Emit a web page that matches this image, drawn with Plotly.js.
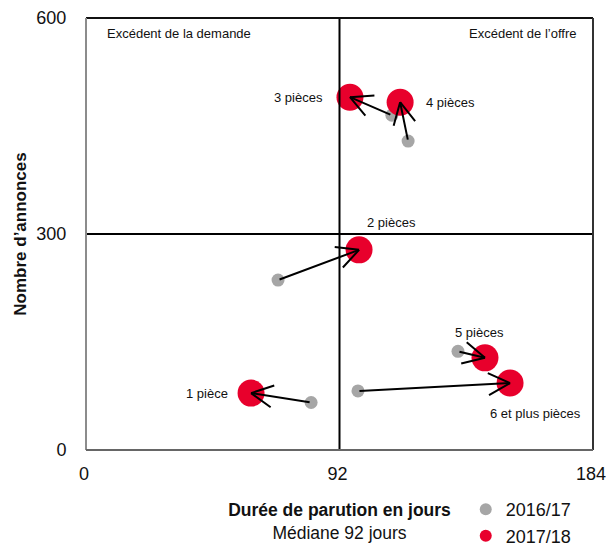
<!DOCTYPE html>
<html>
<head>
<meta charset="utf-8">
<script src="https://cdn.plot.ly/plotly-3.0.1.min.js"></script>
<style>html,body{margin:0;padding:0;background:#fff;}#chart{width:606px;height:546px;}</style>
</head>
<body>
<div id="chart"></div>
<script>
// ---- data ----
const categories = ['1 pièce', '2 pièces', '3 pièces', '4 pièces', '5 pièces', '6 et plus pièces'];
const duree1617 = [81.7, 69.7, 111, 116.9, 135, 98.7];
const annonces1617 = [66, 236, 465, 429, 137, 82];
const duree1718 = [59.9, 99.1, 95.8, 114, 144.8, 153.9];
const annonces1718 = [79, 278, 490, 483, 128, 93];
const seriesNames = ['2016/17', '2017/18'];
const xTicks = [0, 92, 184];
const yTicks = [0, 300, 600];
const medianDays = 92;
const midAnnonces = 300;

// ---- styling ----
const FONT = '"Liberation Sans Narrow", "Arial Narrow", "Liberation Sans", Arial, sans-serif';
const GREY = '#a6a6a6';
const RED = '#e8002c';
const ARM_LEN = 26;            // arrowhead arm offset, px (empty annotation box eats a few px)
const ARM_ANGLE = 27 * Math.PI / 180;
// label placement relative to the 2017/18 point (pixels)
const labelStyle = [
  {xanchor: 'right', xshift: -21, yshift: 0},
  {xanchor: 'left', xshift: 6, yshift: 27},
  {xanchor: 'right', xshift: -25, yshift: 0},
  {xanchor: 'left', xshift: 24, yshift: 0},
  {xanchor: 'center', xshift: -5, yshift: 25},
  {xanchor: 'left', xshift: -22, yshift: -30}
];

const traces = [
  {x: duree1617, y: annonces1617, text: categories, name: seriesNames[0], type: 'scatter', mode: 'markers',
   marker: {color: GREY, size: 13}, hoverinfo: 'text+x+y'},
  {x: duree1718, y: annonces1718, text: categories, name: seriesNames[1], type: 'scatter', mode: 'markers',
   marker: {color: RED, size: 27}, hoverinfo: 'text+x+y'}
];

const annotations = [];
categories.forEach((c, i) => {
  annotations.push({
    x: duree1718[i], y: annonces1718[i], ax: duree1617[i], ay: annonces1617[i],
    xref: 'x', yref: 'y', axref: 'x', ayref: 'y', text: '', showarrow: true,
    arrowhead: 0, arrowwidth: 2, arrowcolor: '#000', standoff: 0, startstandoff: 0
  });
  const s = labelStyle[i];
  annotations.push({
    x: duree1718[i], y: annonces1718[i], xref: 'x', yref: 'y', text: c, showarrow: false,
    xanchor: s.xanchor, yanchor: 'middle', xshift: s.xshift, yshift: s.yshift,
    font: {family: FONT, size: 13, color: '#111'}
  });
});
annotations.push({xref: 'paper', yref: 'paper', x: 0.037, y: 0.965, xanchor: 'left', yanchor: 'middle',
  text: 'Excédent de la demande', showarrow: false, font: {family: FONT, size: 13, color: '#111'}});
annotations.push({xref: 'paper', yref: 'paper', x: 0.97, y: 0.965, xanchor: 'right', yanchor: 'middle',
  text: 'Excédent de l’offre', showarrow: false, font: {family: FONT, size: 13, color: '#111'}});

const shapes = [
  {type: 'line', xref: 'x', yref: 'paper', x0: medianDays, x1: medianDays, y0: 0, y1: 1, line: {color: '#000', width: 2}},
  {type: 'line', xref: 'paper', yref: 'y', x0: 0, x1: 1, y0: midAnnonces, y1: midAnnonces, line: {color: '#000', width: 2}},
  {type: 'line', xref: 'paper', yref: 'paper', x0: 0, x1: 1, y0: 1, y1: 1, line: {color: '#111', width: 2}},
  {type: 'line', xref: 'paper', yref: 'paper', x0: 1, x1: 1, y0: 0, y1: 1, line: {color: '#333', width: 2}},
  {type: 'line', xref: 'paper', yref: 'paper', x0: 0, x1: 0, y0: 0, y1: 1, line: {color: '#8c8c8c', width: 2}},
  {type: 'line', xref: 'paper', yref: 'paper', x0: 0, x1: 1, y0: 0, y1: 0, line: {color: '#666', width: 2}}
];

const layout = {
  width: 606, height: 546,
  margin: {l: 86, r: 13, t: 18, b: 96, autoexpand: false},
  paper_bgcolor: '#fff', plot_bgcolor: '#fff',
  font: {family: FONT, color: '#111'},
  showlegend: true,
  legend: {x: 0.749, y: -0.095, xanchor: 'left', yanchor: 'top', orientation: 'v',
    font: {family: FONT, size: 18, color: '#111'}, itemsizing: 'constant', itemwidth: 30,
    tracegroupgap: 0, bgcolor: 'rgba(0,0,0,0)'},
  xaxis: {range: [0, 184], tickvals: xTicks, ticktext: xTicks.map(String), showgrid: false, zeroline: false,
    showline: false, ticks: 'outside', ticklen: 7, tickcolor: 'rgba(0,0,0,0)', automargin: false,
    ticklabeloverflow: 'allow', ticklabelshift: -2,
    tickfont: {family: FONT, size: 18, color: '#111'},
    title: {text: '<b>Durée de parution en jours</b><br>Médiane 92 jours', font: {family: FONT, size: 17.5, color: '#111'}, standoff: 21}},
  yaxis: {range: [0, 600], tickvals: yTicks, ticktext: yTicks.map(String), showgrid: false, zeroline: false,
    showline: false, ticks: 'outside', ticklen: 15, tickcolor: 'rgba(0,0,0,0)', automargin: false,
    tickfont: {family: FONT, size: 18, color: '#111'},
    title: {text: '<b>Nombre d’annonces</b>', font: {family: FONT, size: 17, color: '#111'}, standoff: 5}},
  shapes: shapes,
  annotations: annotations
};

Plotly.newPlot('chart', traces, layout, {displayModeBar: false, staticPlot: true}).then(gd => {
  // open "V" arrowheads: two short arms at each 2017/18 point, oriented with the library's axis scales
  const xa = gd._fullLayout.xaxis, ya = gd._fullLayout.yaxis;
  const arms = [];
  categories.forEach((c, i) => {
    const dx = xa.l2p(duree1617[i]) - xa.l2p(duree1718[i]);
    const dy = ya.l2p(annonces1617[i]) - ya.l2p(annonces1718[i]);
    const len = Math.hypot(dx, dy);
    const ux = dx / len, uy = dy / len;
    [1, -1].forEach(sgn => {
      const a = sgn * ARM_ANGLE;
      const rx = ux * Math.cos(a) - uy * Math.sin(a);
      const ry = ux * Math.sin(a) + uy * Math.cos(a);
      arms.push({x: duree1718[i], y: annonces1718[i], xref: 'x', yref: 'y',
        ax: rx * ARM_LEN, ay: ry * ARM_LEN, text: '', showarrow: true,
        arrowhead: 0, arrowwidth: 2, arrowcolor: '#000', standoff: 0});
    });
  });
  return Plotly.relayout(gd, {annotations: annotations.concat(arms)});
});
</script>
</body>
</html>
